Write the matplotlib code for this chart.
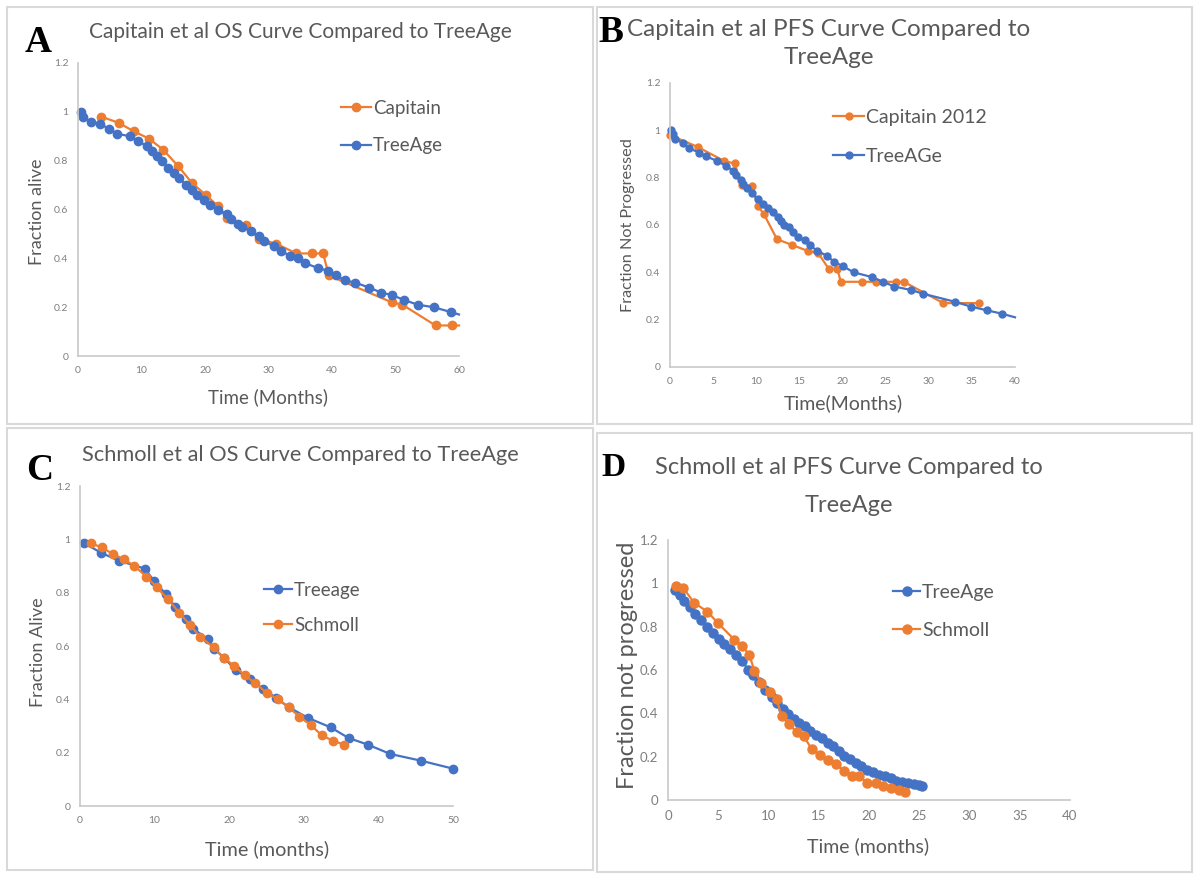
import matplotlib.pyplot as plt
from matplotlib.patches import Rectangle
from matplotlib.ticker import FormatStrFormatter

# panel A: Capitain OS vs TreeAge
a_tree_x = [0.4, 0.8, 2.0, 3.5, 4.9, 6.2, 8.2, 9.5, 10.8, 11.6, 12.4, 13.2, 14.1, 15.1, 15.9, 17.0,
            17.9, 18.7, 19.8, 20.8, 22.0, 23.4, 24.1, 25.2, 25.9, 27.3, 28.5, 29.3, 30.8, 32.0, 33.4,
            34.7, 35.8, 37.8, 39.3, 40.7, 42.0, 43.7, 45.9, 47.7, 49.4, 51.3, 53.5, 56.0, 58.7, 60.0]
a_tree_y = [1.00, 0.98, 0.96, 0.95, 0.93, 0.91, 0.90, 0.88, 0.86, 0.84, 0.82, 0.80, 0.77, 0.75, 0.73, 0.70,
            0.68, 0.66, 0.64, 0.62, 0.60, 0.58, 0.56, 0.54, 0.53, 0.51, 0.49, 0.47, 0.45, 0.43, 0.41,
            0.40, 0.38, 0.36, 0.35, 0.33, 0.31, 0.30, 0.28, 0.26, 0.25, 0.23, 0.21, 0.20, 0.18, 0.17]
a_cap_x = [3.7, 6.4, 8.8, 11.2, 13.4, 15.7, 17.9, 20.1, 22.0, 23.5, 26.4, 28.5, 31.2, 34.4, 36.8,
           38.6, 39.5, 49.4, 51.1, 56.3, 58.9, 60.0]
a_cap_y = [0.98, 0.955, 0.92, 0.89, 0.845, 0.78, 0.71, 0.66, 0.615, 0.565, 0.535, 0.48, 0.46, 0.42, 0.42,
           0.42, 0.33, 0.22, 0.21, 0.125, 0.125, 0.125]

# panel B: Capitain PFS vs TreeAge
b_tree_x = [0.1, 0.4, 0.6, 1.5, 2.2, 3.4, 4.2, 5.5, 6.5, 7.3, 7.7, 8.2, 8.5, 8.9, 9.5, 10.2, 10.8,
            11.4, 11.9, 12.5, 12.9, 13.2, 13.8, 14.3, 14.8, 15.6, 16.2, 17.1, 18.2, 19.0, 20.1, 21.3,
            23.4, 24.7, 26.0, 28.0, 29.3, 33.1, 34.9, 36.7, 38.5, 40.0]
b_tree_y = [1.00, 0.985, 0.965, 0.945, 0.925, 0.905, 0.89, 0.87, 0.85, 0.83, 0.81, 0.79, 0.775, 0.755,
            0.735, 0.71, 0.69, 0.67, 0.655, 0.635, 0.615, 0.60, 0.59, 0.57, 0.55, 0.535, 0.515, 0.49,
            0.47, 0.445, 0.425, 0.40, 0.38, 0.36, 0.34, 0.325, 0.31, 0.275, 0.255, 0.24, 0.225, 0.21]
b_cap_x = [0.0, 3.2, 6.3, 7.5, 8.3, 9.5, 10.2, 10.9, 12.4, 14.2, 16.0, 17.2, 18.4, 19.4, 19.8, 22.3,
           23.9, 26.2, 27.1, 31.7, 35.8]
b_cap_y = [0.98, 0.93, 0.87, 0.86, 0.77, 0.765, 0.68, 0.645, 0.54, 0.515, 0.49, 0.48, 0.415, 0.415,
           0.36, 0.36, 0.36, 0.36, 0.36, 0.27, 0.27]

# panel C: Schmoll OS vs TreeAge
c_tree_x = [0.6, 2.8, 5.2, 8.7, 9.9, 11.5, 12.8, 14.2, 15.2, 17.1, 18.0, 19.3, 20.9, 22.8, 24.5,
            26.3, 28.0, 30.6, 33.6, 36.0, 38.6, 41.6, 45.7, 50.0]
c_tree_y = [0.985, 0.95, 0.92, 0.89, 0.845, 0.795, 0.745, 0.70, 0.665, 0.625, 0.59, 0.555, 0.51, 0.475,
            0.44, 0.405, 0.37, 0.33, 0.295, 0.255, 0.23, 0.195, 0.17, 0.14]
c_sch_x = [1.5, 2.9, 4.4, 5.9, 7.3, 8.9, 10.3, 11.8, 13.3, 14.7, 16.1, 17.9, 19.3, 20.7, 22.1, 23.5,
           25.0, 26.5, 28.0, 29.4, 30.9, 32.4, 33.9, 35.4]
c_sch_y = [0.985, 0.97, 0.945, 0.925, 0.90, 0.86, 0.82, 0.775, 0.725, 0.68, 0.635, 0.595, 0.555, 0.525,
           0.49, 0.46, 0.425, 0.40, 0.37, 0.335, 0.305, 0.265, 0.245, 0.23]

# panel D: Schmoll PFS vs TreeAge
d_tree_x = [0.7, 1.2, 1.6, 2.2, 2.7, 3.3, 3.9, 4.5, 5.1, 5.6, 6.2, 6.8, 7.4, 8.0, 8.5, 9.1, 9.7, 10.3,
            10.8, 11.4, 11.9, 12.5, 13.0, 13.6, 14.1, 14.7, 15.3, 15.9, 16.4, 17.0, 17.5, 18.1, 18.7,
            19.2, 19.8, 20.4, 21.0, 21.6, 22.2, 22.7, 23.3, 23.9, 24.5, 25.0, 25.3]
d_tree_y = [0.97, 0.945, 0.92, 0.89, 0.86, 0.83, 0.80, 0.77, 0.745, 0.72, 0.695, 0.67, 0.64, 0.60,
            0.575, 0.545, 0.51, 0.475, 0.45, 0.42, 0.395, 0.375, 0.355, 0.34, 0.32, 0.30, 0.285, 0.265,
            0.25, 0.225, 0.205, 0.19, 0.17, 0.155, 0.14, 0.13, 0.115, 0.11, 0.10, 0.09, 0.085, 0.08,
            0.075, 0.07, 0.065]
d_sch_x = [0.8, 1.5, 2.6, 3.9, 5.0, 6.6, 7.4, 8.1, 8.6, 9.3, 10.1, 10.8, 11.3, 12.0, 12.8, 13.5, 14.3,
           15.1, 15.9, 16.7, 17.5, 18.3, 19.0, 19.8, 20.7, 21.4, 22.2, 23.0, 23.6]
d_sch_y = [0.99, 0.98, 0.91, 0.87, 0.815, 0.74, 0.71, 0.67, 0.595, 0.54, 0.50, 0.465, 0.39, 0.35,
           0.315, 0.295, 0.235, 0.21, 0.185, 0.165, 0.135, 0.11, 0.11, 0.08, 0.08, 0.065, 0.055, 0.045,
           0.035]

BLUE = '#4472C4'
ORANGE = '#ED7D31'
GRAY = '#595959'
W, H = 1194, 874

plt.rcParams['font.family'] = ['Lato', 'DejaVu Sans']
fig = plt.figure(figsize=(W / 100, H / 100), dpi=100)


def fx(x):
    return x / W


def fy(y):
    return 1 - y / H


def panel_box(x0, y0, x1, y1):
    fig.patches.append(Rectangle((fx(x0), fy(y1)), fx(x1 - x0), (y1 - y0) / H,
                                 transform=fig.transFigure, fill=False,
                                 edgecolor='#d9d9d9', lw=1.5))


def make_axes(x0, x1, ytop, ybot, xmax, xstep, ticksize):
    ax = fig.add_axes([fx(x0), fy(ybot), (x1 - x0) / W, (ybot - ytop) / H])
    ax.set_xlim(0, xmax)
    ax.set_ylim(0, 1.2)
    ax.set_xticks(range(0, xmax + 1, xstep))
    ax.set_yticks([0, 0.2, 0.4, 0.6, 0.8, 1.0, 1.2])
    ax.yaxis.set_major_formatter(FormatStrFormatter('%g'))
    for s in ['top', 'right']:
        ax.spines[s].set_visible(False)
    for s in ['left', 'bottom']:
        ax.spines[s].set_color('#c8c8c8')
        ax.spines[s].set_linewidth(1.2)
    ax.tick_params(length=0, labelsize=ticksize, labelcolor='#7f7f7f', pad=7)
    ax.patch.set_alpha(0)
    return ax


def series(ax, x, y, color, label, ms=6, no_last=False):
    kw = {}
    if no_last:
        kw['markevery'] = slice(0, len(x) - 1)
    ax.plot(x, y, '-o', color=color, lw=1.6, ms=ms, label=label, clip_on=False, **kw)


def legend(ax, x, y, size, hl, sp):
    ax.legend(loc='upper left', bbox_to_anchor=(fx(x), fy(y)), bbox_transform=fig.transFigure,
              frameon=False, fontsize=size, labelcolor=GRAY, handlelength=hl, handletextpad=0.1,
              labelspacing=sp, borderpad=0, borderaxespad=0)


def label(x, y, s, size, rot=0):
    fig.text(fx(x), fy(y), s, rotation=rot, ha='center', va='center', fontsize=size, color=GRAY)


panel_box(7, 7, 593, 424)
panel_box(597, 7, 1192, 424)
panel_box(7, 428, 593, 870)
panel_box(597, 433, 1192, 872)

# A
ax = make_axes(78, 459, 63, 356, 60, 10, 7.5)
series(ax, a_cap_x, a_cap_y, ORANGE, 'Capitain', no_last=True)
series(ax, a_tree_x, a_tree_y, BLUE, 'TreeAge', no_last=True)
legend(ax, 341, 100, 13.5, 1.6, 1.07)
label(300, 32, 'Capitain et al OS Curve Compared to TreeAge', 15)
label(37, 212, 'Fraction alive', 13, 90)
label(268, 397, 'Time (Months)', 13.5)

# B
ax = make_axes(670, 1015, 83, 367, 40, 5, 7.5)
series(ax, b_cap_x, b_cap_y, ORANGE, 'Capitain 2012', ms=5)
series(ax, b_tree_x, b_tree_y, BLUE, 'TreeAGe', ms=5, no_last=True)
legend(ax, 833, 109, 14, 1.6, 1.12)
label(829, 30, 'Capitain et al PFS Curve Compared to', 17.5)
label(829, 58, 'TreeAge', 17.5)
label(628, 225, 'Fraction Not Progressed', 11.7, 90)
label(843, 403, 'Time(Months)', 14)

# C
ax = make_axes(80, 453, 486, 806, 50, 10, 7.5)
series(ax, c_tree_x, c_tree_y, BLUE, 'Treeage')
series(ax, c_sch_x, c_sch_y, ORANGE, 'Schmoll')
legend(ax, 264, 582, 13.5, 1.5, 0.95)
label(300, 455, 'Schmoll et al OS Curve Compared to TreeAge', 15.7)
label(38, 652, 'Fraction Alive', 13, 90)
label(267, 849, 'Time (months)', 14.3)

# D
ax = make_axes(668, 1070, 540, 800, 40, 5, 9.5)
series(ax, d_tree_x, d_tree_y, BLUE, 'TreeAge', ms=6.5)
series(ax, d_sch_x, d_sch_y, ORANGE, 'Schmoll', ms=6.5)
legend(ax, 893, 584, 14, 1.4, 1.07)
label(849, 467, 'Schmoll et al PFS Curve Compared to', 17)
label(849, 506, 'TreeAge', 17)
label(628, 665, 'Fraction not progressed', 17, 90)
label(868, 846, 'Time (months)', 14)

# panel letters
for lab, x, y, size in [('A', 38, 42, 27), ('B', 611, 32, 27), ('C', 40, 470, 27), ('D', 614, 467, 24)]:
    fig.text(fx(x), fy(y), lab, ha='center', va='center', fontsize=size, fontweight='bold',
             family='Liberation Serif', color='black')

fig.savefig('out.png', dpi=100, facecolor='white')
